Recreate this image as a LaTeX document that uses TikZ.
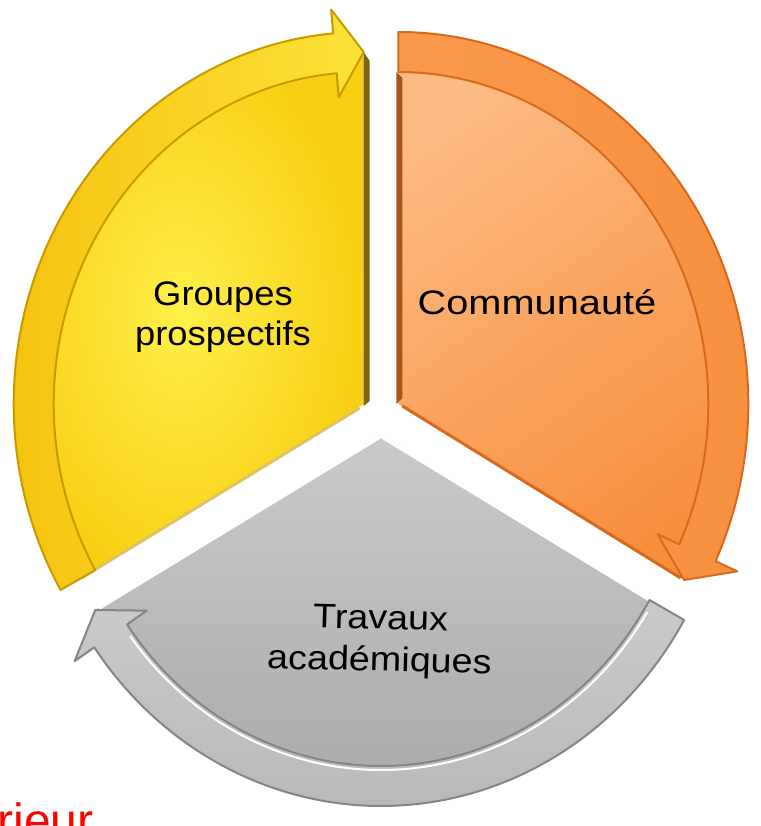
\documentclass[tikz,border=0pt]{standalone}
\usepackage{fontspec}
\setmainfont{Liberation Sans}

\definecolor{jaune}{HTML}{F7CF12}
\definecolor{jauneclair}{HTML}{FFF04A}
\definecolor{jaunebande}{HTML}{F4C20E}
\definecolor{jaunetrait}{HTML}{C99A00}
\definecolor{jaunefonce}{HTML}{7D6510}
\definecolor{orange}{HTML}{F88E3C}
\definecolor{orangeclair}{HTML}{FDBB84}
\definecolor{orangebande}{HTML}{F8903E}
\definecolor{orangetrait}{HTML}{D9691C}
\definecolor{orangefonce}{HTML}{A8551A}
\definecolor{gris}{HTML}{A9A9A9}
\definecolor{grisclair}{HTML}{CACACA}
\definecolor{grisbande}{HTML}{B9B9B9}
\definecolor{gristrait}{HTML}{858585}

\tikzset{
  lbl/.style={font=\fontsize{17}{20}\selectfont, align=center, inner sep=0pt, text=black},
  bande/.style={line width=1pt, line join=round},
}

\begin{document}
\begin{tikzpicture}[x=0.5pt,y=0.5pt]
\useasboundingbox (0,0) rectangle (761,826);

% Groupes prospectifs
\begin{scope}[shift={(363.7,422)}]
 \shade[inner color=jauneclair, outer color=jaune] (0,0) -- (90:330 and 352) -- (95:350 and 372) arc[start angle=95, end angle=210, x radius=350, y radius=372] -- cycle;
 \fill[jaunefonce] (0,-2) -- (0,352) -- (6,343) -- (6,3) -- cycle;
 \draw[jaunetrait!60, line width=1.5pt] (-4,-4) -- (210:326 and 348);
 \shade[bande, draw=jaunetrait, left color=jaunebande, right color=jauneclair!70!jaunebande] (210:350 and 372) arc[start angle=210, end angle=95, x radius=350, y radius=372] -- (95:374 and 396) -- (90:330 and 352) -- (95:286 and 308) -- (95:310 and 332) arc[start angle=95, end angle=210, x radius=310, y radius=332] -- cycle;
\end{scope}

% Communaute
\begin{scope}[shift={(398.3,422)}]
 \shade[top color=orangeclair, bottom color=orange, shading angle=35] (0,0) -- (90:350 and 372) arc[start angle=90, end angle=-25, x radius=350, y radius=372] -- (-30:330 and 352) -- cycle;
 \fill[orangefonce] (-2,0) -- (-2,332) -- (4,326) -- (4,6) -- cycle;
 \draw[orangetrait, line width=1.5pt] (4,-2) -- (-30:326 and 348);
 \shade[bande, draw=orangetrait, left color=orangebande!80!orangeclair, right color=orangebande] (90:350 and 372) arc[start angle=90, end angle=-25, x radius=350, y radius=372] -- (-25:374 and 396) -- (-30:330 and 352) -- (-25:286 and 308) -- (-25:310 and 332) arc[start angle=-25, end angle=90, x radius=310, y radius=332] -- cycle;
\end{scope}

% Travaux academiques
\begin{scope}[shift={(381,392)}]
 \shade[top color=grisclair, bottom color=gris] (0,0) -- (-30:350 and 372) arc[start angle=-30, end angle=-145, x radius=350, y radius=372] -- (-150:330 and 352) -- cycle;
 \draw[white, line width=2pt] (-150:326 and 348) -- (0,-2) -- (-30:326 and 348);
 \shade[bande, draw=gristrait, top color=grisclair, bottom color=grisbande] (-30:350 and 372) arc[start angle=-30, end angle=-145, x radius=350, y radius=372] -- (-145:374 and 396) -- (-150:330 and 352) -- (-145:286 and 308) -- (-145:310 and 332) arc[start angle=-145, end angle=-30, x radius=310, y radius=332] -- cycle;
 \draw[white, line width=1pt] (-32:314 and 336) arc[start angle=-32, end angle=-143, x radius=314, y radius=336];
\end{scope}

\node[lbl, transform shape, xscale=1.07] (grp) at (223,509) {Groupes\\prospectifs};
\node[lbl, anchor=base, transform shape, xscale=1.17] (com) at (537,511) {Communauté};
\node[lbl, font=\fontsize{17}{21}\selectfont, transform shape, xscale=1.11, rotate=-1.5] (trv) at (380,184) {Travaux\\académiques};

\node[anchor=base west, inner sep=0pt, text=red, font=\fontsize{24}{28}\selectfont] (ext) at (-3,-11) {rieur};

\end{tikzpicture}
\end{document}
